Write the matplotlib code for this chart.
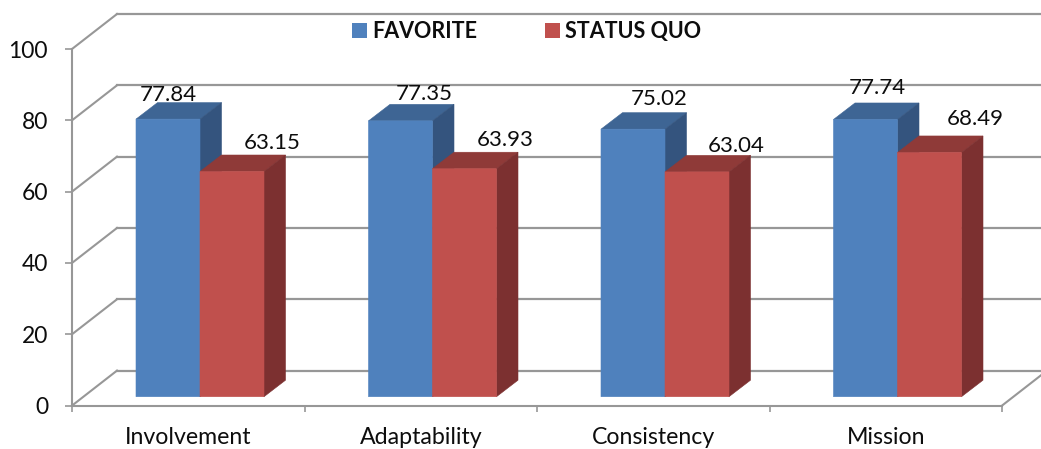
import matplotlib
matplotlib.use("Agg")
import matplotlib.pyplot as plt
from matplotlib.patches import Polygon, Patch

categories = ["Involvement", "Adaptability", "Consistency", "Mission"]
favorite = [77.84, 77.35, 75.02, 77.74]
status_quo = [63.15, 63.93, 63.04, 68.49]
y_ticks = [0, 20, 40, 60, 80, 100]
series_names = ["FAVORITE", "STATUS QUO"]

W, H = 1041, 449
L_PX, R_PX, B_PX, T_PX = 72, 1002, 405.6, 49
XU = (R_PX - L_PX) / 4
YU = (B_PX - T_PX) / 100
PT = 0.72

GRID = "#979797"
TXT = "#0d0d0d"
BLUE = ("#4F81BD", "#3E6594", "#34547E")
RED = ("#C0504D", "#8F3A38", "#7C3030")

plt.rcParams["font.family"] = ["Lato", "DejaVu Sans"]
fig = plt.figure(figsize=(W / 100, H / 100), dpi=100)
ax = fig.add_axes([L_PX / W, (H - B_PX) / H, (R_PX - L_PX) / W, (B_PX - T_PX) / H])
ax.set_xlim(0, 4)
ax.set_ylim(0, 100)
ax.patch.set_visible(False)

wall_dx, wall_dy = 45 / XU, 35 / YU
for v in y_ticks:
    ax.plot([0, wall_dx], [v, v + wall_dy], color=GRID, lw=1.5, clip_on=False, zorder=1)
    ax.plot([wall_dx, 4 + wall_dx], [v + wall_dy] * 2, color=GRID, lw=1.6, clip_on=False, zorder=1)
ax.plot([4, 4 + wall_dx], [0, wall_dy], color=GRID, lw=1.5, clip_on=False, zorder=1)

for s in ("top", "right"):
    ax.spines[s].set_visible(False)
for s in ("left", "bottom"):
    ax.spines[s].set_color(GRID)
    ax.spines[s].set_linewidth(1.5)
    ax.spines[s].set_zorder(1.5)

base = (B_PX - 396.7) / YU
bar_w = 64 / XU
start = 64 / XU
dx, dy = 21.5 / XU, 16.5 / YU


def draw_bar(x, v, cols, z):
    top = base + v
    ax.add_patch(Polygon([(x, top), (x + bar_w, top), (x + bar_w + dx, top + dy), (x + dx, top + dy)],
                         facecolor=cols[1], edgecolor=cols[1], lw=0.4, zorder=z, clip_on=False))
    ax.add_patch(Polygon([(x + bar_w, base), (x + bar_w + dx, base + dy), (x + bar_w + dx, top + dy), (x + bar_w, top)],
                         facecolor=cols[2], edgecolor=cols[2], lw=0.4, zorder=z, clip_on=False))
    bars = ax.bar(x, v, width=bar_w, bottom=base, align="edge", color=cols[0], edgecolor=cols[0], lw=0.4,
                  zorder=z + 0.2, clip_on=False)
    for b in bars:
        b.set_snap(False)


# label offsets from the top centre of each bar, in pixels
fav_off = [(0, 24.5), (24, 27), (26, 30.5), (12, 31.5)]
sq_off = [(40, 28.5), (41, 28.5), (39, 25.5), (46, 33.5)]
for i in range(len(categories)):
    x0 = i + start
    x1 = x0 + bar_w
    draw_bar(x0, favorite[i], BLUE, 2)
    draw_bar(x1, status_quo[i], RED, 3)
    for x, v, off in ((x0, favorite[i], fav_off[i]), (x1, status_quo[i], sq_off[i])):
        ax.annotate(f"{v:.2f}", (x + bar_w / 2, base + v), xytext=(off[0] * PT, off[1] * PT),
                    textcoords="offset points", ha="center", va="center", fontsize=16,
                    color=TXT, zorder=5, annotation_clip=False)

ax.set_yticks(y_ticks)
ax.set_xticks(range(5))
ax.set_xticklabels([""] * 5)
ax.set_xticks([i + 0.5 for i in range(4)], categories, minor=True)
ax.tick_params(axis="y", length=7 * PT, width=1.2, color=GRID, labelsize=16.5, labelcolor=TXT, pad=17 * PT)
ax.tick_params(axis="x", which="major", length=6 * PT, width=1.2, color=GRID)
ax.tick_params(axis="x", which="minor", length=0, labelsize=16.7, labelcolor=TXT, pad=21 * PT)

handles = [Patch(facecolor=BLUE[0], label=series_names[0]), Patch(facecolor=RED[0], label=series_names[1])]
leg = fig.legend(handles=handles, ncol=2, loc="center", bbox_to_anchor=(526.5 / W, 1 - 31.5 / H),
                 frameon=False, prop={"weight": "bold", "size": 15.5},
                 handlelength=0.7, handleheight=0.7, handletextpad=0.23, columnspacing=3.16,
                 borderpad=0, borderaxespad=0)
for t in leg.get_texts():
    t.set_color(TXT)

fig.savefig("out.png", dpi=100)
